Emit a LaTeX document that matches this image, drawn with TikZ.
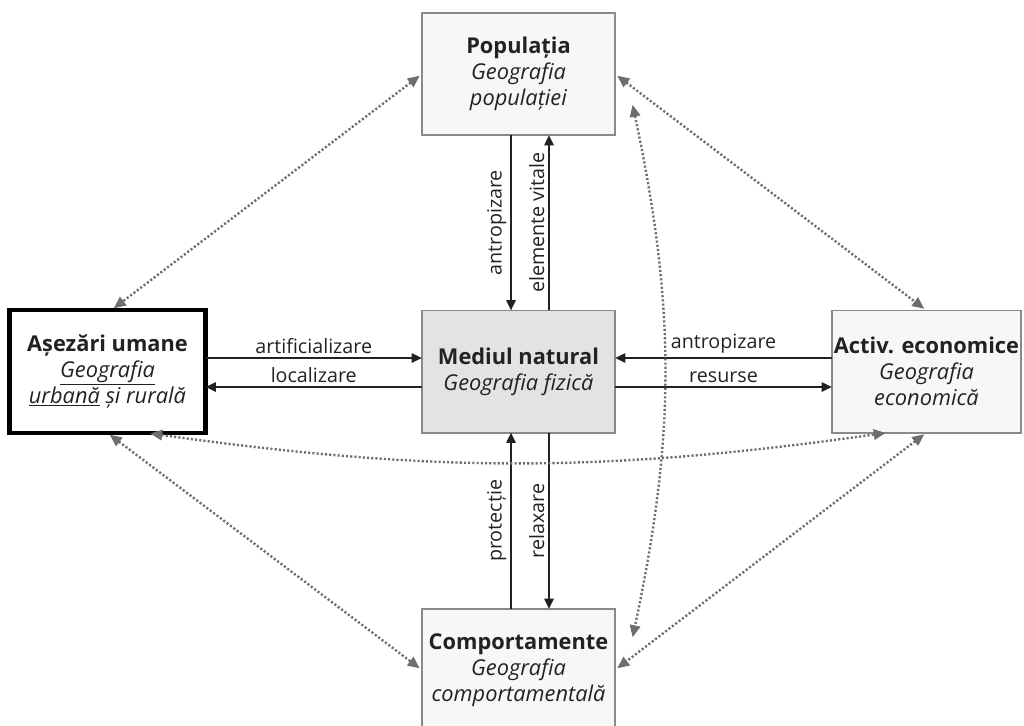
\documentclass[tikz,border=0pt]{standalone}
\usepackage{fontspec}
\setmainfont{Open Sans}
\usetikzlibrary{arrows.meta,calc}
\definecolor{boxline}{HTML}{8A8A8A}
\definecolor{boxfill}{HTML}{F7F7F7}
\definecolor{corefill}{HTML}{E3E3E3}
\definecolor{textcol}{HTML}{222222}
\definecolor{linkgray}{HTML}{6E6E6E}
\begin{document}
\begin{tikzpicture}[x=0.025cm,y=-0.025cm,
  box/.style={draw=boxline, line width=1.4pt, fill=boxfill,
    minimum width=4.825cm, minimum height=3.05cm, align=center,
    text=textcol, inner sep=0pt, outer sep=0pt,
    font=\fontsize{15.5}{18.5}\selectfont},
  flow/.style={draw=textcol, line width=1.6pt,
    -{Triangle[length=2.6mm,width=2.3mm]}},
  lbl/.style={font=\fontsize{14}{16.5}\selectfont, text=textcol, inner sep=2.5pt},
  link/.style={draw=linkgray, line width=1.7pt, dash pattern=on 1.5pt off 1.5pt,
    {Triangle[length=3mm,width=2.6mm]}-{Triangle[length=3mm,width=2.6mm]},
    shorten <=2pt, shorten >=2pt}]
\useasboundingbox (0,0) rectangle (1024,725);
\clip (0,0) rectangle (1024,725);

% the five domains
\node[box] (pop) at (518.5,74) {\textbf{Populația}\\\textit{Geografia}\\\textit{populației}};
\node[box, draw=black, line width=3pt, fill=white, minimum width=4.9cm, minimum height=3.075cm]
  (ase) at (107.5,371.5) {\textbf{Așezări umane}\\\textit{\underline{Geografia}}\\\textit{\underline{urbană} și rurală}};
\node[box, fill=corefill] (med) at (518.5,371.5) {\textbf{Mediul natural}\\\textit{Geografia fizică}};
\node[box, minimum width=4.725cm] (act) at (926.5,371.5) {\textbf{Activ. economice}\\\textit{Geografia}\\\textit{economică}};
\node[box] (com) at (518.5,670) {\textbf{Comportamente}\\\textit{Geografia}\\\textit{comportamentală}};

% flows between the natural environment and the other domains
\draw[flow] ($(pop.south)+(-7.5,0)$) -- node[lbl, midway, rotate=90, anchor=south] {antropizare} ($(med.north)+(-7.5,0)$);
\draw[flow] ($(med.north)+(30.5,0)$) -- node[lbl, midway, rotate=90, anchor=south] {elemente vitale} ($(pop.south)+(30.5,0)$);
\draw[flow] ($(com.north)+(-7.5,0)$) -- node[lbl, midway, rotate=90, anchor=south] {protecție} ($(med.south)+(-7.5,0)$);
\draw[flow] ($(med.south)+(30.5,0)$) -- node[lbl, midway, rotate=90, anchor=south] {relaxare} ($(com.north)+(30.5,0)$);

\draw[flow] ($(ase.east)+(0,-13.5)$) -- node[lbl, midway, above] {artificializare} ($(med.west)+(0,-13.5)$);
\draw[flow] ($(med.west)+(0,15.5)$) -- node[lbl, midway, above] {localizare} ($(ase.east)+(0,15.5)$);
\draw[flow] ($(act.west)+(0,-13.5)$) -- node[lbl, midway, above] {antropizare} ($(med.east)+(0,-13.5)$);
\draw[flow] ($(med.east)+(0,15.5)$) -- node[lbl, midway, above] {resurse} ($(act.west)+(0,15.5)$);

% dotted links among the human domains
\draw[link] (pop.west) -- ($(ase.north)+(4,0)$);
\draw[link] (pop.east) -- (act.north);
\draw[link] (ase.south) -- (com.west);
\draw[link] (act.south) -- (com.east);
\draw[link] ($(ase.south)+(40,0)$) to[bend right=8] ($(act.south)+(-38,0)$);
\draw[link] ($(pop.south east)+(17,-33)$) to[bend left=12] ($(com.north east)+(17,31)$);
\end{tikzpicture}
\end{document}
